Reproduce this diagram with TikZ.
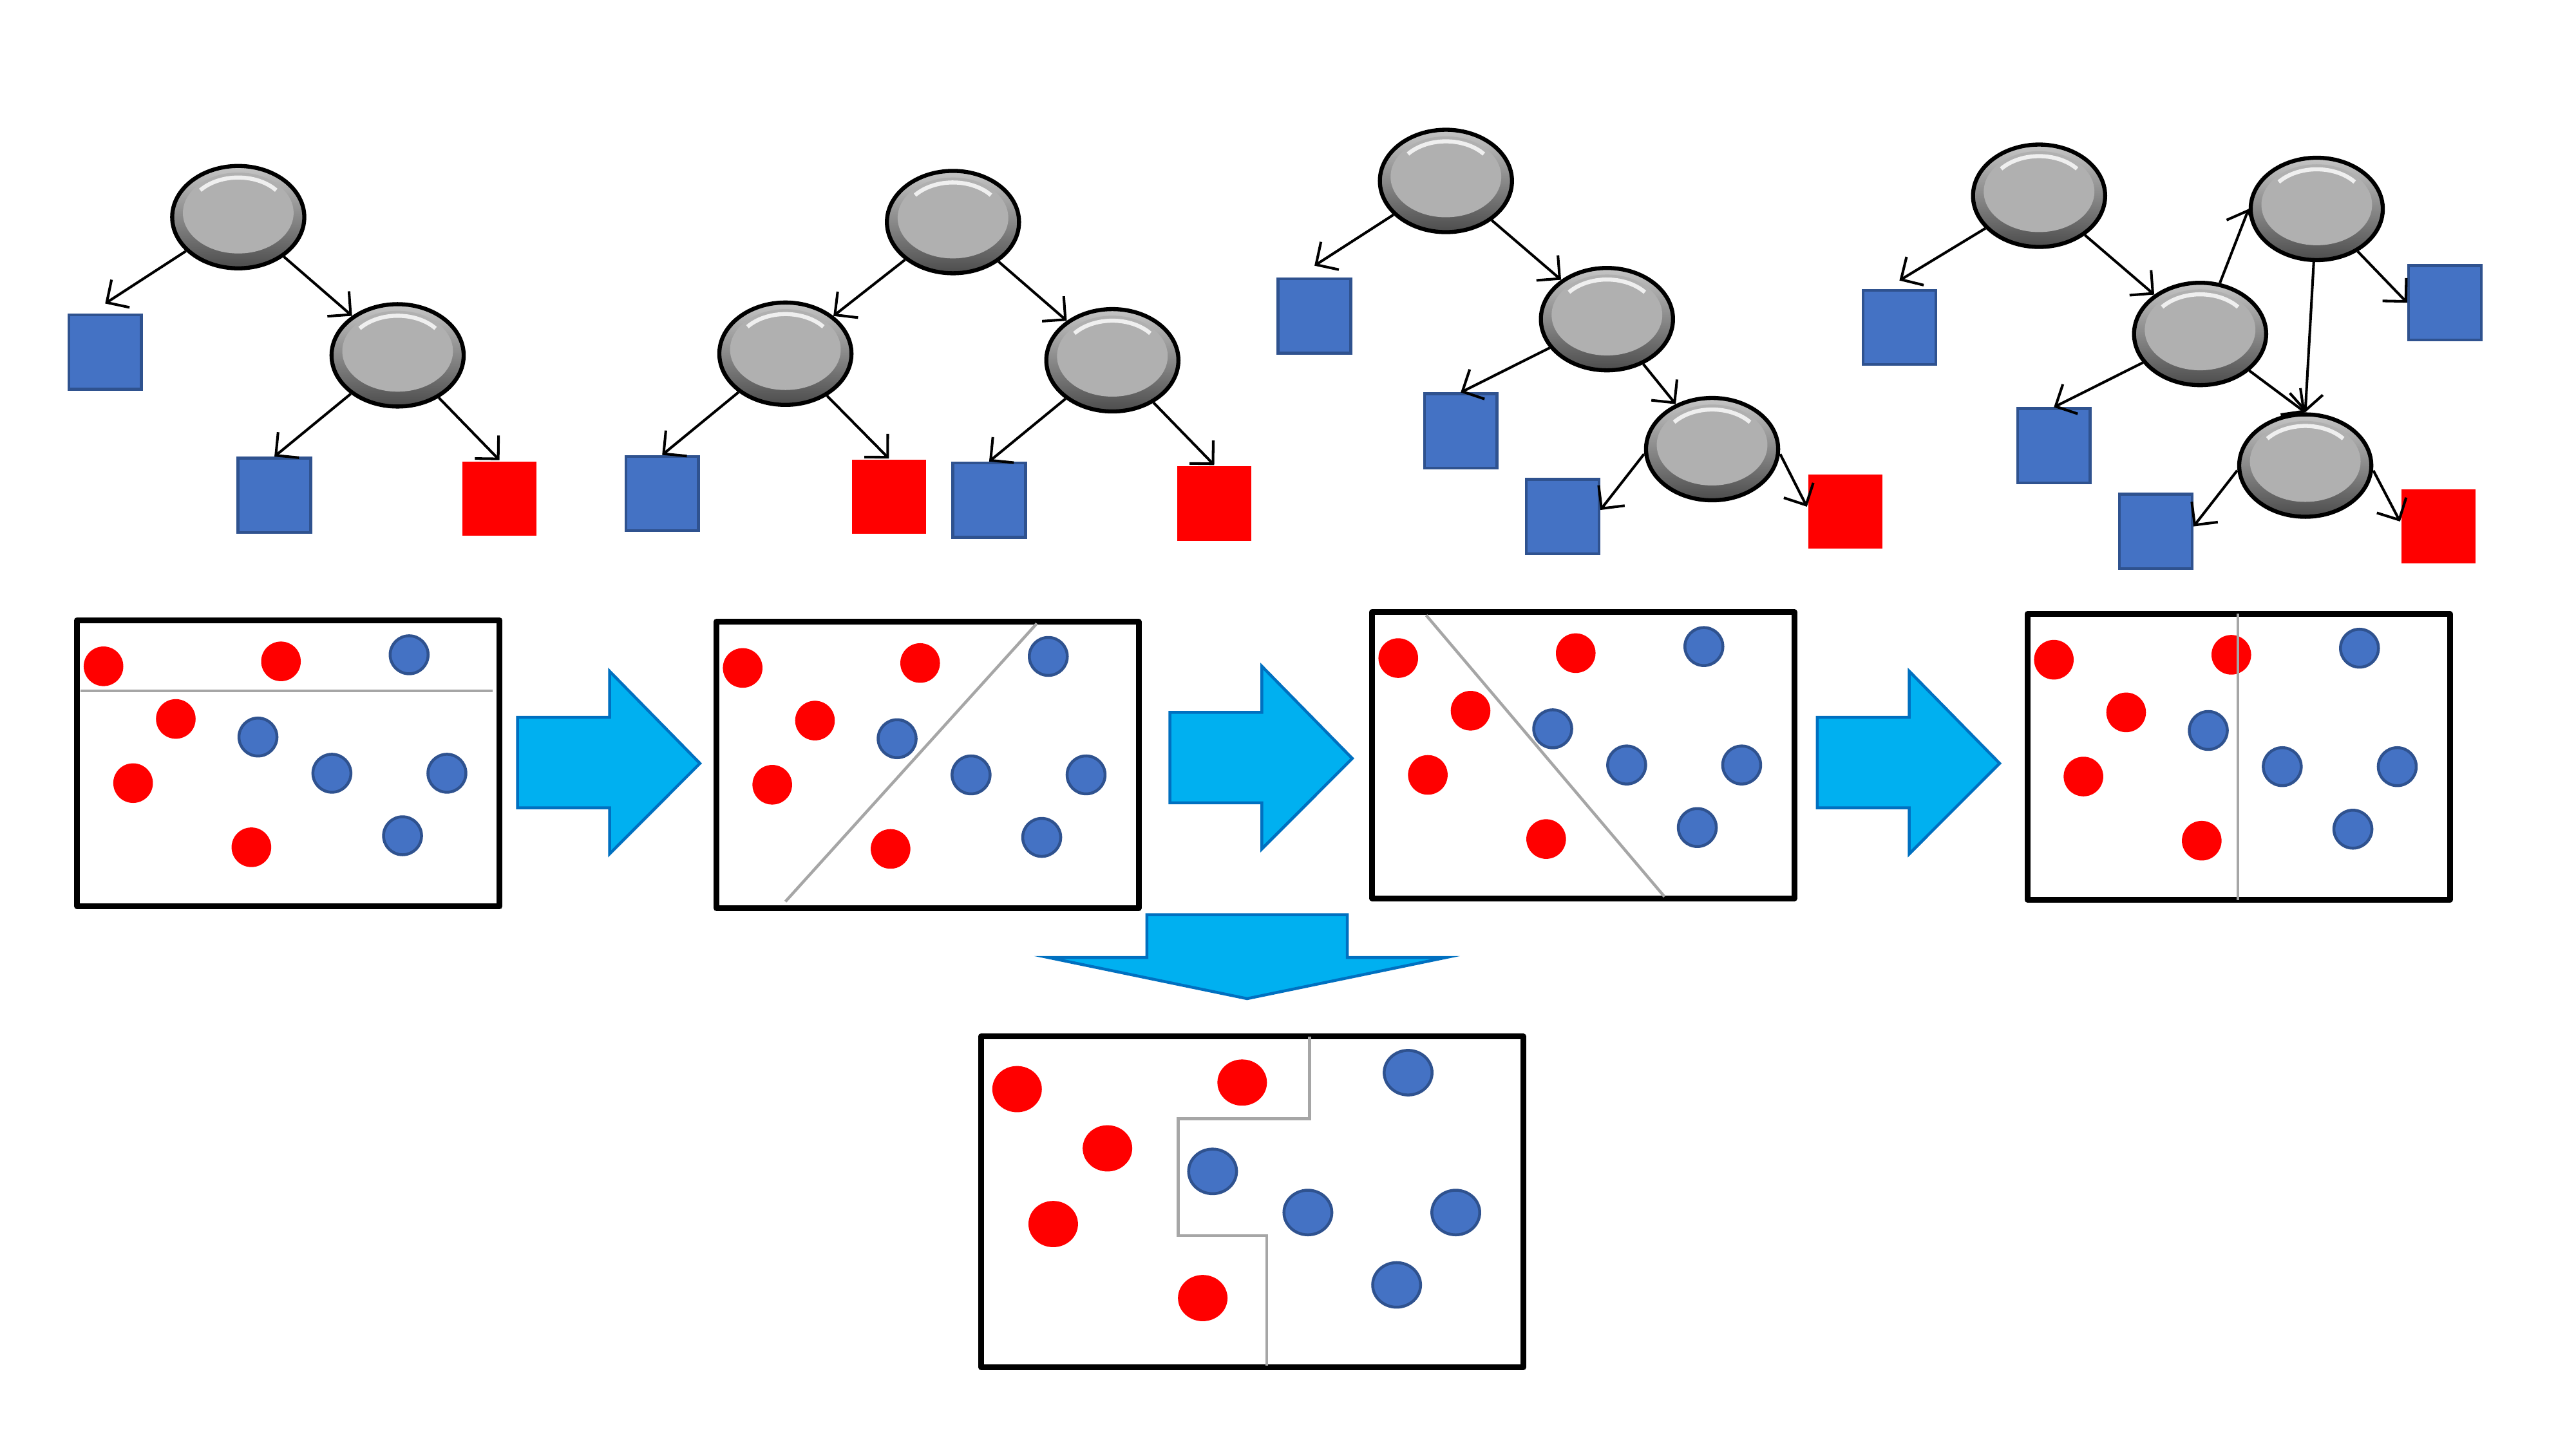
\documentclass[tikz,border=0pt]{standalone}
\usetikzlibrary{shapes.geometric,arrows.meta}
\definecolor{leafblue}{HTML}{4472C4}
\definecolor{edgeblue}{HTML}{2F528F}
\definecolor{nodegray}{HTML}{B0B0B0}
\definecolor{arrowcyan}{HTML}{00B0F0}
\definecolor{arrowedge}{HTML}{0070C0}
\definecolor{cutgray}{HTML}{A6A6A6}
\begin{document}
\begin{tikzpicture}[x=0.00995cm, y=-0.00996cm,
    splitnode/.style={ellipse, draw=black, line width=0.7pt, minimum width=0.8cm, minimum height=0.62cm, inner sep=0pt,
        top color=gray!45, bottom color=black!70,
        path picture={
            \fill[nodegray] ([yshift=0.025cm]path picture bounding box.center) ellipse (0.335cm and 0.245cm);
            \draw[white!80!nodegray, line width=0.7pt] ([yshift=0.025cm, shift={(140:0.3cm and 0.215cm)}]path picture bounding box.center)
                arc[start angle=140, end angle=40, x radius=0.3cm, y radius=0.215cm];
        }},
    bleaf/.style={rectangle, draw=edgeblue, fill=leafblue, line width=0.5pt, minimum width=0.44cm, minimum height=0.45cm, inner sep=0pt},
    rleaf/.style={rectangle, fill=red, minimum width=0.45cm, minimum height=0.45cm, inner sep=0pt},
    link/.style={-{Straight Barb[length=1mm,width=2mm]}, line width=0.45pt},
    panel/.style={draw=black, line width=1pt, line join=round},
    cutline/.style={draw=cutgray, line width=0.5pt},
    rdot/.style={circle, fill=red, minimum size=0.24cm, inner sep=0pt},
    bdot/.style={circle, fill=leafblue, draw=edgeblue, line width=0.5pt, minimum size=0.23cm, inner sep=0pt},
    rbig/.style={ellipse, fill=red, minimum width=0.3cm, minimum height=0.28cm, inner sep=0pt},
    bbig/.style={ellipse, fill=leafblue, draw=edgeblue, line width=0.5pt, minimum width=0.29cm, minimum height=0.27cm, inner sep=0pt},
    bigarrow/.style={fill=arrowcyan, draw=arrowedge, line width=0.5pt, line join=miter}
]
\useasboundingbox (0,0) rectangle (1567.8,881);

% tree 1
\node[splitnode] (A1) at (145,132) {};
\node[splitnode] (B1) at (242,216) {};
\node[bleaf] (P1) at (64,214) {};
\node[bleaf] (Q1) at (167,301) {};
\node[rleaf] (R1) at (304,303) {};
\draw[link] (A1) -- ([yshift=0.06cm]P1.north);
\draw[link] (A1) -- (B1);
\draw[link] (B1) -- (Q1.north);
\draw[link] (B1) -- (R1.north);

% tree 2
\node[splitnode] (A2) at (580,135) {};
\node[splitnode] (B2) at (478,215) {};
\node[splitnode] (C2) at (677,219) {};
\node[bleaf] (P2) at (403,300) {};
\node[rleaf] (Q2) at (541,302) {};
\node[bleaf] (R2) at (602,304) {};
\node[rleaf] (S2) at (739,306) {};
\draw[link] (A2) -- (B2);
\draw[link] (A2) -- (C2);
\draw[link] (B2) -- (P2.north);
\draw[link] (B2) -- (Q2.north);
\draw[link] (C2) -- (R2.north);
\draw[link] (C2) -- (S2.north);

% tree 3
\node[splitnode] (A3) at (880,110) {};
\node[splitnode] (B3) at (978,194) {};
\node[splitnode] (C3) at (1042,273) {};
\node[bleaf] (P3) at (800,192) {};
\node[bleaf] (Q3) at (889,262) {};
\node[bleaf] (R3) at (951,314) {};
\node[rleaf] (S3) at (1123,311) {};
\draw[link] (A3) -- ([yshift=0.07cm]P3.north);
\draw[link] (A3) -- (B3);
\draw[link] (B3) -- (Q3.north);
\draw[link] (B3) -- (C3);
\draw[link] ([yshift=-0.03cm]C3.west) -- ([yshift=0.04cm]R3.east);
\draw[link] ([yshift=-0.03cm]C3.east) -- ([yshift=0.03cm]S3.west);

% tree 4
\node[splitnode] (A4) at (1241,119) {};
\node[splitnode] (B4) at (1339,203) {};
\node[splitnode] (C4) at (1410,127) {};
\node[splitnode] (D4) at (1403,283) {};
\node[bleaf] (P4) at (1156,199) {};
\node[bleaf] (Q4) at (1488,184) {};
\node[bleaf] (R4) at (1250,271) {};
\node[bleaf] (S4) at (1312,323) {};
\node[rleaf] (T4) at (1484,320) {};
\draw[link] (A4) -- ([yshift=0.05cm]P4.north);
\draw[link] (A4) -- (B4);
\draw[link] (B4) -- (C4.west);
\draw[link] (C4) -- (Q4.west);
\draw[link] (C4) -- (D4.north);
\draw[link] (B4) -- (R4.north);
\draw[link] (B4) -- (D4.north);
\draw[link] ([yshift=-0.03cm]D4.west) -- ([yshift=0.03cm]S4.east);
\draw[link] ([yshift=-0.03cm]D4.east) -- ([yshift=0.03cm]T4.west);

% panels
\foreach \px/\py/\k in {47/377/1, 436/378/2, 835/372/3, 1234/373/4} {
    \begin{scope}[shift={(\px,\py)}, name prefix=p\k-]
        \draw[panel] (0,0) rectangle (257,174);
        \foreach \dx/\dy [count=\i] in {16/28, 124/25, 60/60, 34/99, 106/138}
            \node[rdot] (r\i) at (\dx,\dy) {};
        \foreach \dx/\dy [count=\i] in {202/21, 110/71, 155/93, 225/93, 198/131}
            \node[bdot] (b\i) at (\dx,\dy) {};
    \end{scope}
}
\draw[cutline] (49,420) -- (300,420);
\draw[cutline] (478,548) -- (631,379);
\draw[cutline] (868,374) -- (1013,545);
\draw[cutline] (1362,373) -- (1362,547);

% block arrows
\foreach \dx/\dy in {0/0, 397/-3, 791/0}
    \draw[bigarrow, shift={(\dx,\dy)}] (315,436) -- (371,436) -- (371,408) -- (426,464)
        -- (371,519) -- (371,491) -- (315,491) -- cycle;
\draw[bigarrow] (698,556) -- (820,556) -- (820,582) -- (880,582) -- (759,607)
    -- (638,582) -- (698,582) -- cycle;

% bottom panel
\draw[panel] (597,630) rectangle (927,831);
\node[rbig] (q-r1) at (619,662) {};
\node[rbig] (q-r2) at (756,658) {};
\node[rbig] (q-r3) at (674,698) {};
\node[rbig] (q-r4) at (641,744) {};
\node[rbig] (q-r5) at (732,789) {};
\node[bbig] (q-b1) at (857,652) {};
\node[bbig] (q-b2) at (738,712) {};
\node[bbig] (q-b3) at (796,737) {};
\node[bbig] (q-b4) at (886,737) {};
\node[bbig] (q-b5) at (850,781) {};
\draw[cutline] (797,630) |- (717,680) |- (771,751) -- (771,830);
\end{tikzpicture}
\end{document}
